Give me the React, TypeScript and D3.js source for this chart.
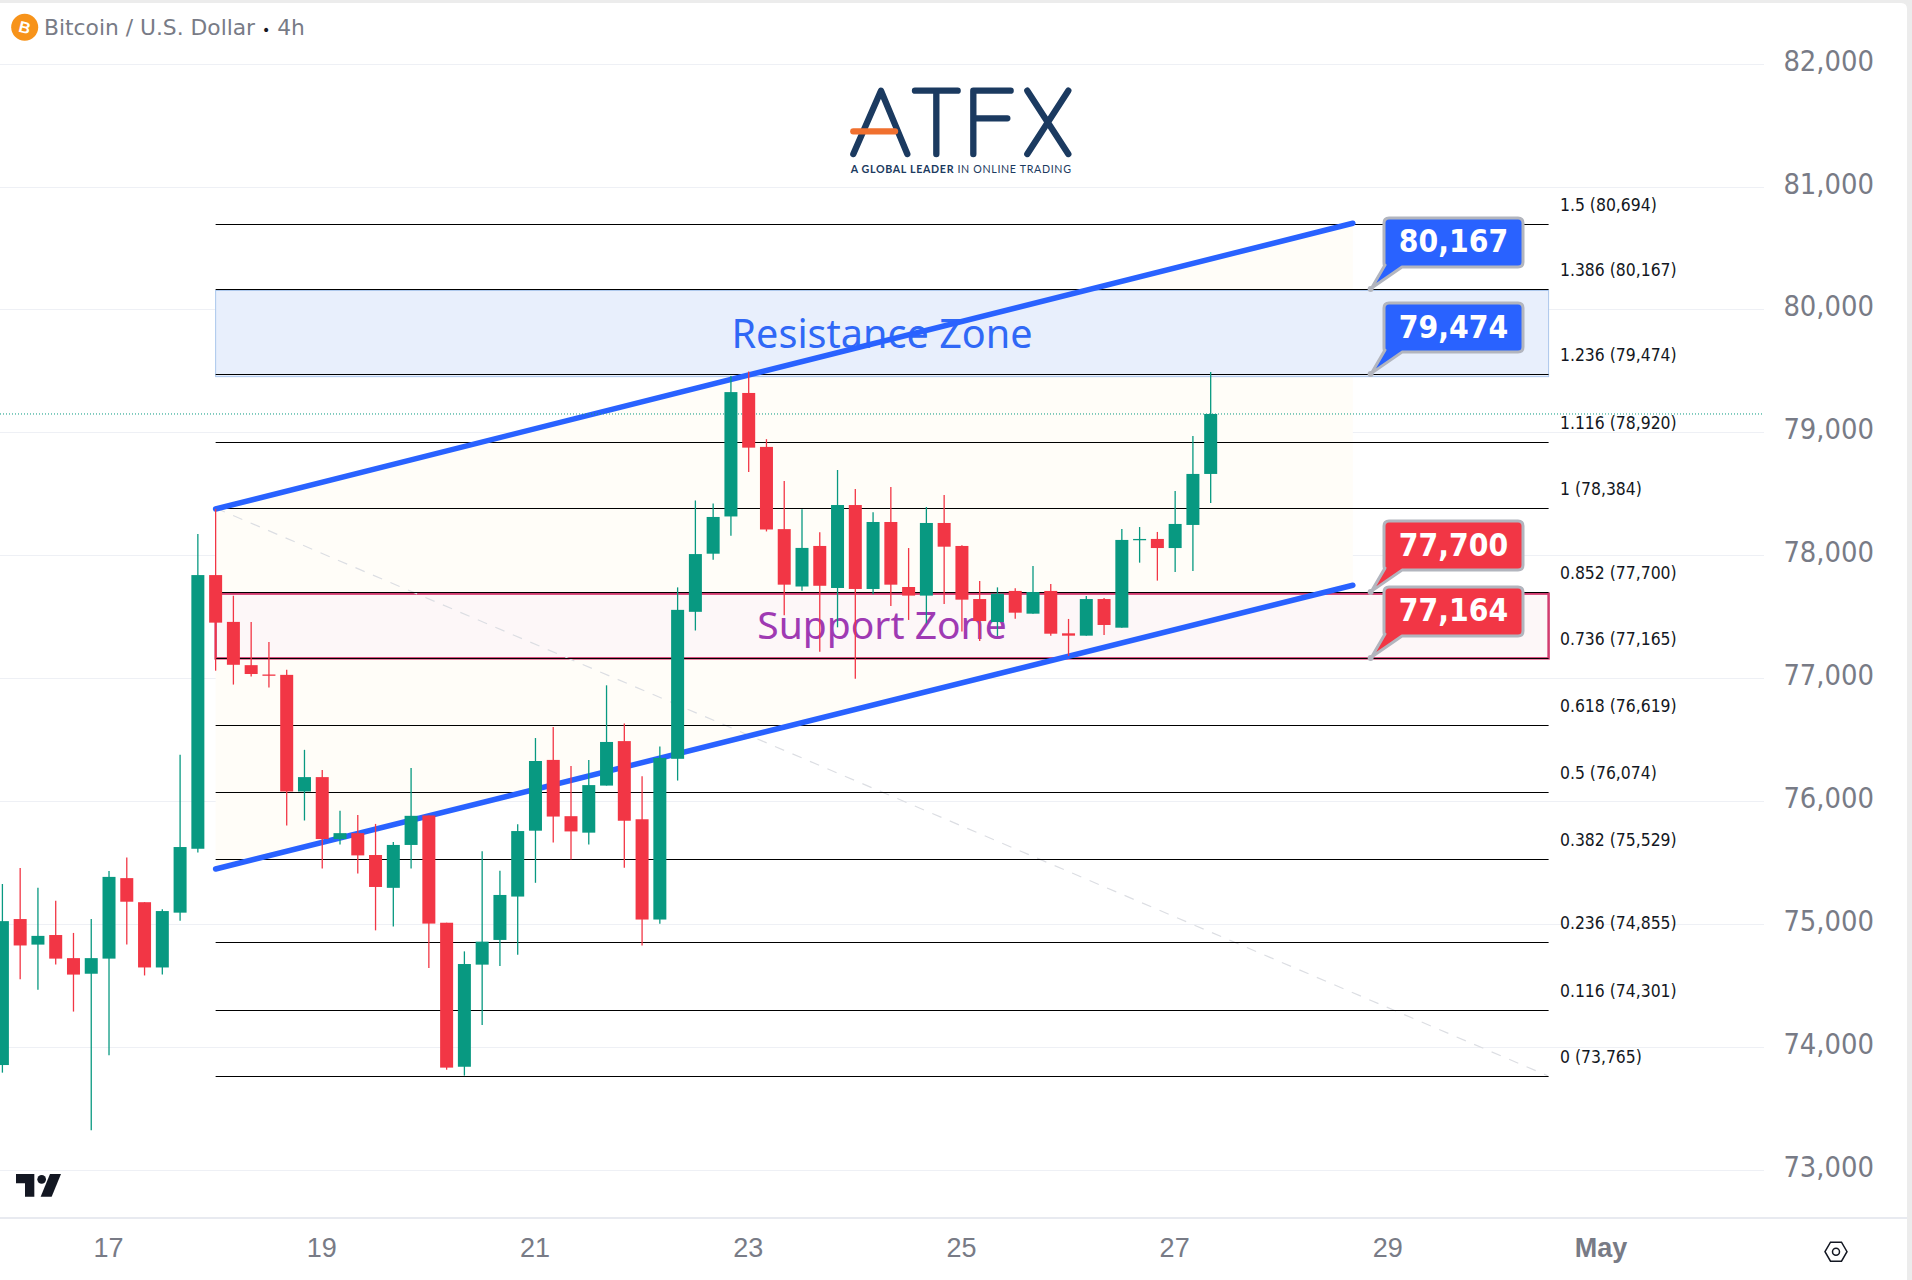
import React from "react";
import * as d3 from "d3";

const W = 1912, H = 1280;

// 4h candles: index 0 = first visible candle, index 6 = the 17th at 00:00
const opens = [73859,75047,74839,74917,74729,74602,74725,75380,75184,74653,75099,75619,77846,77465,77113,77037,77034,76085,76202,75698,75746,75568,75301,75650,75890,75017,73845,74676,74877,75230,75766,76342,75884,75750,76133,76495,75859,75043,76351,77547,78020,78323,79328,78889,78220,77753,78083,77741,78416,77733,78278,77749,77679,78270,78083,77651,77464,77717,77532,77717,77372,77353,77651,77418,78132,78140,78066,78254,78669];
const highs = [75332,75462,75301,75195,74934,75047,75438,75548,75184,75126,76383,78181,78384,77678,77465,77301,77075,76424,76260,75928,75893,75821,75674,76277,75890,75017,74784,75598,75439,75819,76520,76610,76292,76342,76949,76638,76208,76451,77746,78453,78428,79465,79503,78952,78612,78382,78195,78701,78546,78357,78563,78066,78400,78498,78088,77798,77746,77738,77920,77773,77489,77676,77660,78221,78237,78197,78530,78978,79499];
const lows = [73797,74558,74472,74677,74294,73328,73938,74839,74588,74595,75034,75589,77068,76955,77020,76931,75808,75849,75458,75654,75417,74955,74986,75458,74649,73821,73773,74185,74665,74757,75342,75669,75532,75654,76133,75464,74832,75009,76174,77395,77971,78167,78684,78201,77519,77718,77223,77421,77003,77689,77594,77481,77453,77611,77386,77310,77350,77491,77532,77353,77188,77353,77358,77418,77947,77801,77871,77879,78433];
const closes = [75030,74832,74910,74725,74595,74729,75390,75188,74653,75112,75633,77846,77459,77116,77041,77027,76085,76202,75698,75746,75565,75308,75650,75887,75010,73838,74681,74863,75243,75763,76333,75881,75760,76137,76488,75847,75043,76358,77563,78017,78319,79335,78883,78217,77768,78067,77759,78416,77733,78278,77768,77679,78270,78077,77646,77472,77695,77540,77708,77369,77353,77651,77440,78132,78140,78066,78262,78669,79157];

const priceTicks = [82000,81000,80000,79000,78000,77000,76000,75000,74000,73000];
const dateTickLabels = ["17","19","21","23","25","27","29","May"];
const dateTickIndex = [6,18,30,42,54,66,78,90];

const fibLevels = ["1.5","1.386","1.236","1.116","1","0.852","0.736","0.618","0.5","0.382","0.236","0.116","0"];
const fibPrices = [80694,80167,79474,78920,78384,77700,77165,76619,76074,75529,74855,74301,73765];

const channelIndex = [12,76];
const channelTop = [78384,80709];
const channelBottom = [75454,77763];

const calloutTexts = ["80,167","79,474","77,700","77,164"];
const calloutPrices = [80167,79474,77700,77164];
const calloutColors = ["#2962ff","#2962ff","#f23645","#f23645"];
const calloutIndex = 77;

const lastPrice = 79157;
const fibStartIndex = 12;
const fibEndIndex = 86.96;

const x = d3.scaleLinear().domain([0,90]).range([2.4,1601.6]);
const y = d3.scaleLinear().domain([73000,82000]).range([1169.7,63.7]);
// candles and channel sit a hair below the price grid in the reference
const yMark = (p: number) => y(p) + 0.9;
const CONDENSED = '"DejaVu Sans Condensed","DejaVu Sans",sans-serif';
const UP = "#089981", DOWN = "#f23645";

const bodyW = 13;

function Callout({ text, price, color }: { text: string; price: number; color: string }) {
  const ax = x(calloutIndex), ay = y(price);
  const left = 1384, right = 1523, bottom = ay - 22, top = bottom - 49, r = 5;
  const d = `M${left + r},${top} H${right - r} Q${right},${top} ${right},${top + r} V${bottom - r} Q${right},${bottom} ${right - r},${bottom} H${left + 18} L${ax + 1},${ay - 1} L${left + 1},${bottom - 2} Q${left},${bottom} ${left},${bottom - r} V${top + r} Q${left},${top} ${left + r},${top} Z`;
  return (
    <g>
      <path d={d} fill={color} stroke="#b2b5be" strokeWidth={3} strokeLinejoin="round" />
      <circle cx={ax} cy={ay} r={3} fill="#b2b5be" />
      <text x={(left + right) / 2} y={(top + bottom) / 2 + 10} textAnchor="middle" fontFamily={CONDENSED} fontStretch="condensed" fontWeight={700} fontSize={31.5} fill="#fff">{text}</text>
    </g>
  );
}

function Logo() {
  const navy = "#1b3a60";
  return (
    <g transform="translate(820,70) scale(0.3333)">
      <g fill="none" stroke={navy} strokeWidth={19} strokeLinecap="round" strokeLinejoin="round">
        <path d="M100,252 L183,62 L262,252" />
        <path d="M285,62 H413 M349,62 V252" />
        <path d="M460,252 V62 H572 M460,145 H562" />
        <path d="M622,62 L745,252 M745,62 L622,252" />
      </g>
      <path d="M100,184 H225" fill="none" stroke="#f0702f" strokeWidth={19} strokeLinecap="round" />
      <text x={92} y={308} fontFamily="Lato, sans-serif" fontSize={32} letterSpacing={2} fill={navy}>
        <tspan fontWeight={700}>A GLOBAL LEADER </tspan><tspan fontWeight={400}>IN ONLINE TRADING</tspan>
      </text>
    </g>
  );
}

export default function App() {
  const fx0 = x(fibStartIndex), fx1 = 1548.6;
  const line = d3.line<number>().x((_, i) => x(channelIndex[i])).y((d) => yMark(d));
  const topPath = line(channelTop)!;
  const botPath = line(channelBottom)!;
  const channelFill = `M${x(channelIndex[0])},${yMark(channelTop[0])} L${x(channelIndex[1])},${yMark(channelTop[1])} L${x(channelIndex[1])},${yMark(channelBottom[1])} L${x(channelIndex[0])},${yMark(channelBottom[0])} Z`;
  return (
    <svg width={W} height={H} viewBox={`0 0 ${W} ${H}`} style={{ position: "absolute", left: 0, top: 0, display: "block" }}>
      <rect width={W} height={H} fill="#ececec" />
      <path d={`M0,3 H1901 Q1907,3 1907,9 V${H} H0 Z`} fill="#fff" />

      {priceTicks.map((p) => (
        <line key={p} x1={0} x2={1764} y1={Math.round(y(p)) + 0.5} y2={Math.round(y(p)) + 0.5} stroke="#eef0f5" strokeWidth={1} />
      ))}
      <line x1={0} x2={1907} y1={1218} y2={1218} stroke="#e0e3eb" strokeWidth={1.5} />

      <path d={channelFill} fill="#fffdf8" />
      <rect x={fx0} y={y(80167) + 1.5} width={fx1 - fx0} height={y(79474) - y(80167) + 1} fill="#e8effc" stroke="#aac6ec" strokeWidth={1} />
      <rect x={fx0} y={y(77700) + 1.5} width={fx1 - fx0} height={y(77165) - y(77700) - 1} fill="#fdf7f8" stroke="#d23b6f" strokeWidth={2.5} />

      <line x1={x(fibStartIndex)} y1={y(78384)} x2={x(fibEndIndex)} y2={y(73765)} stroke="#dcdee3" strokeWidth={1.2} strokeDasharray="10 9" />

      {fibPrices.map((p, i) => {
        const ly = Math.round(y(p)) + 0.5;
        return (
          <g key={p}>
            <line x1={fx0} x2={fx1} y1={ly} y2={ly} stroke="#000" strokeWidth={1} />
            <text x={1560} y={y(p) - 13} fontFamily={CONDENSED} fontStretch="condensed" fontSize={17.4} fill="#131722">{`${fibLevels[i]} (${d3.format(",")(p)})`}</text>
          </g>
        );
      })}

      <text x={882} y={348} textAnchor="middle" fontFamily='"Noto Sans",sans-serif' fontSize={39.6} fill="#3068f6">Resistance Zone</text>
      <text x={882} y={639} textAnchor="middle" fontFamily='"Noto Sans",sans-serif' fontSize={39} fill="#9f3ab3">Support Zone</text>

      <path d={topPath} fill="none" stroke="#2962ff" strokeWidth={5.5} strokeLinecap="round" />
      <path d={botPath} fill="none" stroke="#2962ff" strokeWidth={5.5} strokeLinecap="round" />

      <line x1={0} x2={1764} y1={yMark(lastPrice)} y2={yMark(lastPrice)} stroke={UP} strokeWidth={1} strokeDasharray="1 2" />

      {opens.map((o, i) => {
        const c = closes[i];
        const col = c >= o ? UP : DOWN;
        const cx = x(i);
        const t = yMark(Math.max(o, c));
        const b = yMark(Math.min(o, c));
        return (
          <g key={i}>
            <line x1={cx} x2={cx} y1={yMark(highs[i])} y2={yMark(lows[i])} stroke={col} strokeWidth={1.3} />
            <rect x={cx - bodyW / 2} y={t} width={bodyW} height={Math.max(b - t, 1.3)} fill={col} />
          </g>
        );
      })}

      {calloutTexts.map((t, i) => (
        <Callout key={t} text={t} price={calloutPrices[i]} color={calloutColors[i]} />
      ))}

      {priceTicks.map((p) => (
        <text key={p} x={1874} y={y(p) + 7} textAnchor="end" fontFamily={CONDENSED} fontStretch="condensed" fontSize={28.8} fill="#787b86">{d3.format(",")(p)}</text>
      ))}
      {dateTickLabels.map((t, i) => (
        <text key={t} x={x(dateTickIndex[i]) - 0.5} y={1257} textAnchor="middle" fontFamily="Liberation Sans, sans-serif" fontSize={27} fontWeight={t === "May" ? 700 : 400} fill="#787b86">{t}</text>
      ))}

      <Logo />

      <circle cx={24.7} cy={27.3} r={13.5} fill="#f7931a" />
      <text x={24.7} y={33} textAnchor="middle" fontFamily="Liberation Sans, sans-serif" fontWeight={700} fontSize={16} fill="#fff" transform="rotate(14 24.7 27.3)">B</text>
      <text x={44} y={35} fontFamily="DejaVu Sans, sans-serif" fontSize={21.8} fill="#787b86">
        Bitcoin / U.S. Dollar <tspan fill="#131722" fontSize={14}>•</tspan> 4h
      </text>

      <g transform="translate(0,1140) scale(0.3333)" fill="#131722">
        <path d="M48,102 H103 V170 H75 V130 H48 Z" />
        <circle cx={125} cy={118} r={13} />
        <path d="M150,102 H183 L155,170 H122 Z" />
      </g>

      <g transform="translate(1836,1251.7)" fill="none" stroke="#131722" strokeWidth={1.5}>
        <path d="M-11,0 L-5.5,-9.5 H5.5 L11,0 L5.5,9.5 H-5.5 Z" />
        <circle r={3.5} />
      </g>
    </svg>
  );
}
